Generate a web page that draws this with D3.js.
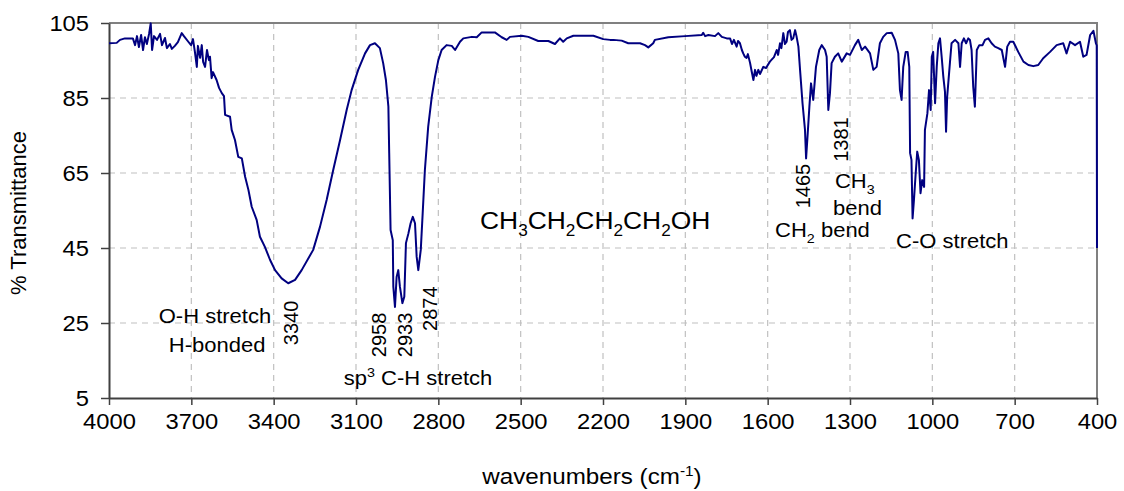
<!DOCTYPE html>
<html>
<head>
<meta charset="utf-8">
<script src="https://cdn.jsdelivr.net/npm/d3@7"></script>
<style>
  html, body { margin: 0; padding: 0; background: #fff; }
  svg { display: block; font-family: "Liberation Sans", Arial, sans-serif; }
</style>
</head>
<body>
<svg id="chart" width="1124" height="491"></svg>
<script>
// ---- data ----
const wavenumbers = [
  4000,3972,3960,3942,3913,3905,3898,3891,3883,3876,3869,3862,3854,3848,3843,3836,3825,3814,3807,3796,
  3789,3778,3771,3760,3749,3735,3727,3711,3701,3694,3687,3680,3676,3668,3662,3657,3650,3643,3636,3632,
  3626,3621,3608,3599,3589,3581,3577,3559,3553,3541,3529,3516,3504,3492,3480,3462,3450,3432,3413,3395,
  3371,3347,3322,3298,3256,3231,3207,3183,3158,3134,3116,3092,3067,3049,3031,3013,3001,2991,2982,2979,
  2974,2966,2964,2958,2952,2946,2940,2931,2924,2918,2909,2901,2893,2885,2879,2873,2864,2857,2849,2837,
  2824,2812,2800,2788,2770,2751,2739,2721,2709,2678,2660,2642,2594,2569,2551,2539,2496,2472,2436,2399,
  2375,2357,2345,2332,2308,2235,2199,2174,2162,2132,2108,2065,2047,2035,2017,2011,1962,1901,1840,1835,
  1828,1816,1792,1780,1767,1749,1737,1730,1723,1713,1708,1701,1694,1689,1683,1677,1672,1664,1658,1652,
  1646,1641,1634,1628,1616,1606,1592,1577,1567,1562,1555,1550,1543,1537,1531,1526,1519,1513,1507,1500,
  1495,1488,1482,1473,1464,1460,1454,1448,1442,1434,1424,1412,1403,1391,1385,1379,1373,1367,1355,1343,
  1330,1312,1300,1282,1270,1257,1245,1227,1215,1203,1191,1179,1166,1148,1136,1124,1118,1112,1106,1097,
  1090,1084,1081,1076,1072,1067,1061,1055,1049,1043,1037,1030,1027,1018,1012,1006,1002,997,990,984,
  978,972,966,960,954,950,946,936,930,917,905,899,893,885,877,869,863,857,851,845,
  838,829,817,808,796,784,772,760,747,735,727,717,705,687,668,650,632,614,596,571,
  547,523,511,498,480,462,450,438,425,413,404,401,400
];
const transmittance = [
  99.6,99.7,100.5,100.9,100.9,99.1,101.5,98.6,101.8,97.8,101.2,99.4,102.1,104.9,97.8,101.5,100.5,102.1,99.1,101.0,
  98.3,99.4,98.1,98.9,99.9,102.3,101.5,100.0,99.1,100.7,97.3,93.3,98.9,95.7,99.1,94.6,93.3,97.8,95.1,96.0,
  90.3,91.9,89.8,87.7,86.3,85.5,80.5,80.0,76.5,73.8,69.3,68.9,64.0,60.5,56.0,52.5,48.0,45.3,41.8,39.1,
  36.9,35.6,36.5,39.1,44.5,50.7,57.8,65.8,73.8,81.8,87.1,92.5,96.9,99.1,99.6,98.3,94.3,89.8,82.7,70.3,
  49.8,47.1,34.7,29.3,37.3,39.1,34.7,30.3,32.0,46.3,48.9,51.6,53.3,51.6,42.7,39.1,44.5,54.3,65.8,77.3,
  85.3,90.7,95.1,97.8,99.1,98.9,97.8,100.0,100.9,101.3,101.2,102.5,102.5,101.2,100.5,101.3,101.6,101.3,100.2,100.2,
  99.4,100.9,100.0,100.9,101.6,101.6,100.7,100.5,100.5,100.3,99.6,99.6,99.1,98.5,99.6,100.5,101.2,101.5,101.8,102.4,
  101.5,101.8,101.5,102.3,101.3,100.9,100.9,99.4,100.5,98.7,100.2,99.6,97.8,96.9,96.0,95.7,96.7,94.3,92.0,89.8,
  92.5,90.9,92.5,91.4,93.3,93.0,94.7,95.9,97.8,96.5,99.6,98.3,102.3,99.4,100.0,102.6,103.1,100.5,100.9,103.1,
  101.5,98.7,92.5,83.6,76.5,68.9,75.6,82.7,88.9,84.5,93.3,97.8,99.1,97.8,96.0,81.8,86.3,94.3,96.0,96.9,
  94.7,96.9,96.5,99.1,100.5,97.8,98.7,96.9,92.5,93.3,99.6,101.3,102.3,102.4,100.5,96.9,87.1,84.5,93.3,97.3,
  97.3,93.3,70.3,68.5,52.9,57.8,64.5,70.7,68.5,59.6,63.1,61.3,76.5,80.9,87.1,81.8,96.0,97.3,83.6,93.3,
  99.6,100.9,96.0,90.7,86.7,76.0,85.3,94.3,99.6,100.5,99.6,93.3,99.6,100.9,99.6,100.9,100.5,97.8,88.0,82.7,
  97.8,99.1,99.1,100.5,100.9,99.6,98.7,98.3,97.8,93.3,98.7,100.0,100.0,97.3,94.7,93.8,93.5,93.8,95.6,97.3,
  99.1,99.6,96.9,100.0,99.1,100.0,96.0,96.5,101.8,102.9,99.6,99.0,45.0
];
const xTicks = [4000,3700,3400,3100,2800,2500,2200,1900,1600,1300,1000,700,400];
const yTicks = [5,25,45,65,85,105];
const xDomain = [4000, 400];
const yDomain = [5, 105];

// peak labels (rotated), anchored in data units
const peakLabels = [
  {text: "3340", wn: 3311, t: 19.1},
  {text: "2958", wn: 2991, t: 15.9},
  {text: "2933", wn: 2897, t: 15.9},
  {text: "2874", wn: 2804, t: 22.9},
  {text: "1465", wn: 1446, t: 55.6},
  {text: "1381", wn: 1306, t: 68.0}
];

// ---- layout ----
const svg = d3.select("#chart");
const m = {left: 109, right: 1097, top: 23, bottom: 398};
const x = d3.scaleLinear().domain(xDomain).range([m.left, m.right]);
const y = d3.scaleLinear().domain(yDomain).range([m.bottom, m.top]);
const SX = 1.1; // horizontal stretch of the reference's lettering

function stretch(sel, k) {
  sel.each(function() {
    const t = d3.select(this);
    const tx = +t.attr("x") || 0, ty = +t.attr("y") || 0;
    t.attr("transform", `translate(${tx},${ty}) scale(${k},1)`).attr("x", 0).attr("y", 0);
  });
}

// grid
const grid = svg.append("g").attr("stroke", "#c0c0c0").attr("stroke-width", 1.2)
  .attr("stroke-dasharray", "6,5");
grid.selectAll("line.v").data(xTicks.slice(1, -1)).join("line")
  .attr("x1", d => x(d)).attr("x2", d => x(d)).attr("y1", m.top).attr("y2", m.bottom);
grid.selectAll("line.h").data(yTicks.slice(1, -1)).join("line")
  .attr("x1", m.left).attr("x2", m.right).attr("y1", d => y(d)).attr("y2", d => y(d));

// plot border (top/right)
svg.append("path")
  .attr("d", `M${m.left},${m.top}H${m.right}V${m.bottom}`)
  .attr("fill", "none").attr("stroke", "#808080").attr("stroke-width", 2);

// axes
const xAxis = svg.append("g").attr("transform", `translate(0,${m.bottom})`)
  .call(d3.axisBottom(x).tickValues(xTicks).tickSize(7).tickSizeOuter(0).tickPadding(8)
        .tickFormat(d3.format("d")));
const yAxis = svg.append("g").attr("transform", `translate(${m.left},0)`)
  .call(d3.axisLeft(y).tickValues(yTicks).tickSize(8).tickSizeOuter(0).tickPadding(12)
        .tickFormat(d3.format("d")));
[xAxis, yAxis].forEach(g => {
  g.select(".domain").attr("stroke", "#404040").attr("stroke-width", 2);
  g.selectAll(".tick line").attr("stroke", "#404040").attr("stroke-width", 1.5);
  g.selectAll(".tick text").attr("fill", "#000").attr("font-size", 22)
    .attr("font-family", "\"Liberation Sans\", Arial, sans-serif");
  stretch(g.selectAll(".tick text"), 1.08);
});
xAxis.selectAll(".tick text").attr("dy", "0.71em");

// spectrum
const pts = wavenumbers.map((w, i) => [w, transmittance[i]]);
svg.append("path").datum(pts)
  .attr("fill", "none").attr("stroke", "#000080").attr("stroke-width", 2)
  .attr("stroke-linejoin", "round")
  .attr("d", d3.line().x(d => x(d[0])).y(d => y(d[1])));

// axis titles
const xt = svg.append("text").attr("x", 592).attr("y", 484).attr("text-anchor", "middle")
  .attr("font-size", 22);
xt.append("tspan").text("wavenumbers (cm");
xt.append("tspan").attr("font-size", 14).attr("dy", -8).text("-1");
xt.append("tspan").attr("dy", 8).text(")");
stretch(xt, SX);

svg.append("text").attr("transform", "translate(26,213) rotate(-90)")
  .attr("text-anchor", "middle").attr("font-size", 22).text("% Transmittance");

// peak labels
svg.selectAll("text.peak").data(peakLabels).join("text").attr("class", "peak")
  .attr("transform", d => `translate(${x(d.wn)},${y(d.t)}) rotate(-90)`)
  .attr("font-size", 20).text(d => d.text);

// descriptive annotations (data-unit anchors)
function label(wn, t, anchor, size, parts) {
  const tx = svg.append("text").attr("x", x(wn)).attr("y", y(t))
    .attr("text-anchor", anchor).attr("font-size", size);
  parts.forEach(p => {
    const s = tx.append("tspan").text(p[0]);
    if (p[1] === "sub") s.attr("font-size", size * 0.65).attr("dy", size * 0.3);
    else if (p[1] === "sup") s.attr("font-size", size * 0.65).attr("dy", -size * 0.4);
    else if (p[1] === "subend" || p[1] === "supend") s.attr("dy", p[1] === "subend" ? -size * 0.3 : size * 0.4);
  });
  stretch(tx, SX);
  return tx;
}
label(3614, 25.0, "middle", 20, [["O-H stretch"]]);
label(3606, 17.3, "middle", 20, [["H-bonded"]]);
label(2874, 8.5, "middle", 20, [["sp"], ["3", "sup"], [" C-H stretch", "supend"]]);
label(2648, 50.0, "start", 24, [["CH"], ["3", "sub"], ["CH", "subend"], ["2", "sub"], ["CH", "subend"], ["2", "sub"], ["CH", "subend"], ["2", "sub"], ["OH", "subend"]]);
label(1355, 60.9, "start", 20, [["CH"], ["3", "sub"]]);
label(1362, 53.8, "start", 20, [["bend"]]);
label(1573, 48.0, "start", 20, [["CH"], ["2", "sub"], [" bend", "subend"]]);
label(1132, 45.1, "start", 20, [["C-O stretch"]]);
</script>
</body>
</html>
